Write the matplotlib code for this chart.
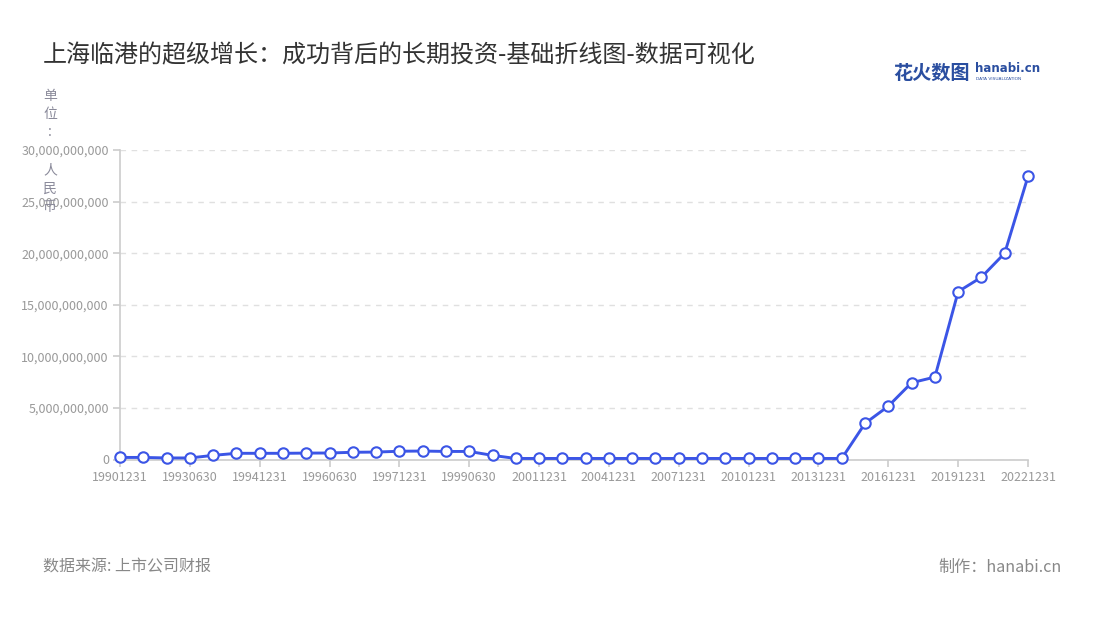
import matplotlib
matplotlib.use("Agg")
import matplotlib.pyplot as plt
from matplotlib.ticker import FuncFormatter

plt.rcParams['font.family'] = ['Noto Sans CJK SC', 'DejaVu Sans']

dates = ["19901231", "19911231", "19921231", "19930630", "19931231", "19940630",
         "19941231", "19950630", "19951231", "19960630", "19961231", "19970630",
         "19971231", "19980630", "19981231", "19990630", "19991231", "20001231",
         "20011231", "20021231", "20031231", "20041231", "20051231", "20061231",
         "20071231", "20081231", "20091231", "20101231", "20111231", "20121231",
         "20131231", "20141231", "20151231", "20161231", "20171231", "20181231",
         "20191231", "20201231", "20211231", "20221231"]
values_bn = [0.20, 0.20, 0.15, 0.15, 0.40, 0.60, 0.60, 0.60, 0.62, 0.63,
             0.70, 0.72, 0.80, 0.82, 0.78, 0.78, 0.40, 0.10, 0.10, 0.10,
             0.10, 0.10, 0.10, 0.10, 0.10, 0.10, 0.10, 0.10, 0.10, 0.10,
             0.10, 0.10, 3.50, 5.17, 7.44, 7.99, 16.27, 17.67, 20.00, 27.44]
values = [v * 1e9 for v in values_bn]

title = "上海临港的超级增长：成功背后的长期投资-基础折线图-数据可视化"
source = "数据来源: 上市公司财报"
maker = "制作：hanabi.cn"

fig = plt.figure(figsize=(11, 6.2), dpi=100)
ax = fig.add_axes([120/1100, 1-459.5/620, (1028-120)/1100, (459.5-150)/620])

line_color = "#3b55e6"
x = list(range(len(dates)))
ax.plot(x, values, color=line_color, lw=2.1, marker='o', markersize=7.5,
        markerfacecolor='white', markeredgecolor=line_color, markeredgewidth=1.5,
        zorder=3, clip_on=False)

ax.set_xlim(0, len(dates) - 1)
ax.set_ylim(0, 30e9)
ax.set_yticks([i * 5e9 for i in range(7)])
ax.yaxis.set_major_formatter(FuncFormatter(lambda v, p: f"{int(v):,}"))
ax.set_xticks(x[::3])
ax.set_xticklabels(dates[::3])

ax.grid(axis='y', color='#e0e0e0', linestyle=(0, (4, 4)), lw=1)
ax.set_axisbelow(True)
for s in ['top', 'right']:
    ax.spines[s].set_visible(False)
for s in ['left', 'bottom']:
    ax.spines[s].set_color('#cccccc')
    ax.spines[s].set_linewidth(1.2)
ax.tick_params(axis='both', colors='#cccccc', labelcolor='#999999',
               labelsize=9, length=5, width=1.2)
ax.tick_params(axis='x', pad=3)
ax.tick_params(axis='y', pad=3)

# y-axis name
yname = [("单", 96), ("位", 114), (":", 132), ("人", 170), ("民", 189), ("币", 207)]
for ch, yy in yname:
    fig.text(50/1100, 1-yy/620, ch, ha='center', va='center', fontsize=10, color='#8a8a9a')

fig.text(43/1100, 1-55/620, title, ha='left', va='center', fontsize=17.3, color='#333333')
fig.text(43/1100, 1-567/620, source, ha='left', va='center', fontsize=11.5, color='#888888')
fig.text(1062/1100, 1-567/620, maker, ha='right', va='center', fontsize=11.6, color='#888888')

# logo
fig.text(893/1100, 1-73/620, "花火数图", ha='left', va='center', fontsize=13.8,
         color='#2a4ea0', fontweight='bold')
fig.text(975/1100, 1-69/620, "hanabi.cn", ha='left', va='center', fontsize=8.5,
         color='#2a4ea0', fontweight='bold', family=['DejaVu Sans'])
fig.text(976/1100, 1-79/620, "DATA VISUALIZATION", ha='left', va='center', fontsize=3.2,
         color='#2a4ea0', family=['DejaVu Sans'])

fig.savefig("out.png", dpi=100)
